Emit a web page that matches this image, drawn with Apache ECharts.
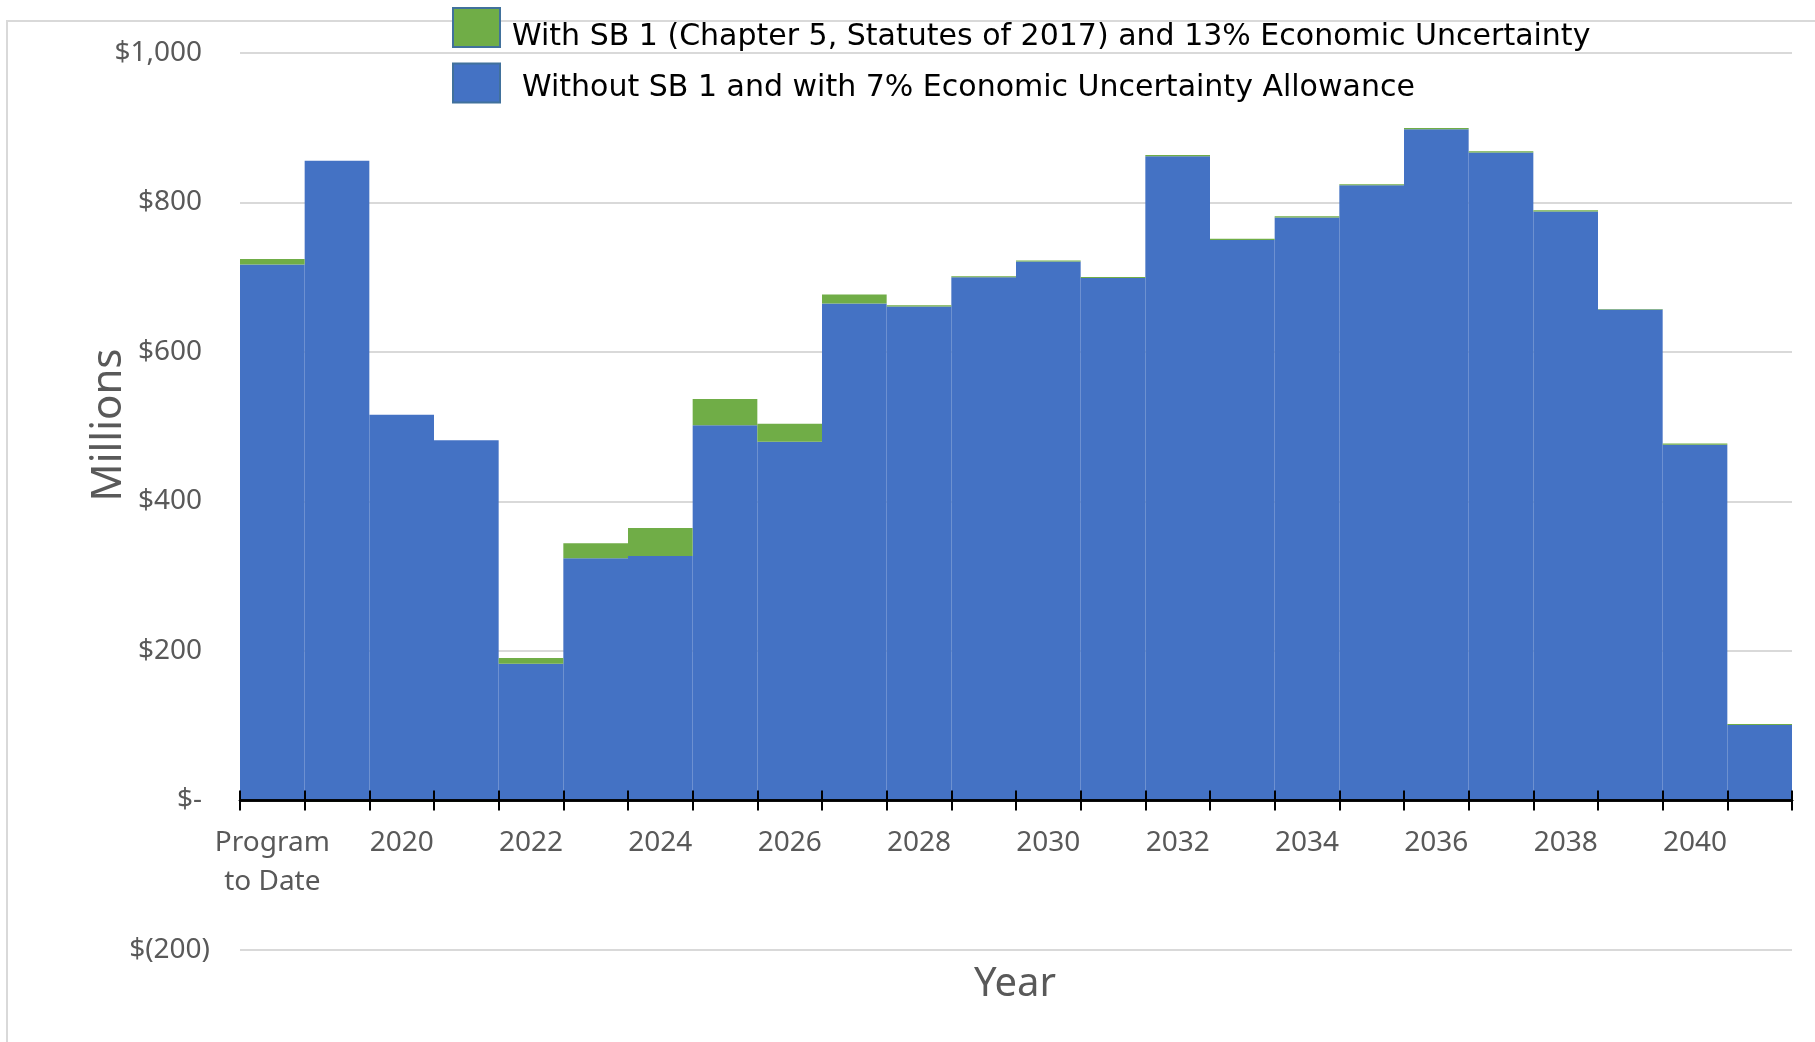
<!DOCTYPE html>
<html>
<head>
<meta charset="utf-8">
<script src="https://cdn.jsdelivr.net/npm/echarts@6/dist/echarts.min.js"></script>
<style>
html,body{margin:0;padding:0;background:#fff;}
#chart{width:1815px;height:1042px;}
</style>
</head>
<body>
<div id="chart"></div>
<script>
const categories = ['Program to Date','2019','2020','2021','2022','2023','2024','2025','2026','2027','2028','2029','2030','2031','2032','2033','2034','2035','2036','2037','2038','2039','2040','2041'];
const withoutSB1 = [717, 856, 516, 482, 183, 324, 327, 502, 480, 665, 661, 700, 721, 699, 862, 750, 780, 823, 898, 867, 788, 657, 476, 101];
const withSB1Extra = [7.5, -2, -2, -2, 7.5, 20, 37.5, 35, 24, 12, 1.5, 1.5, 1.5, 1.5, 1.5, 1.5, 1.5, 1.5, 1.5, 1.5, 1.5, 0.5, 1.5, 1.5];
const yTicks = {'1000':'$1,000','800':'$800','600':'$600','400':'$400','200':'$200','0':'$-','-200':'$(200)'};
const nameWith = 'With SB 1 (Chapter 5, Statutes of 2017) and 13% Economic Uncertainty';
const nameWithout = 'Without SB 1 and with 7% Economic Uncertainty Allowance';
const xTitle = 'Year';
const yTitle = 'Millions';

const chart = echarts.init(document.getElementById('chart'));
const FONT = 'Noto Sans';
const gridBox = {left: 240, right: 23, top: 53, bottom: 92, outerBoundsMode: 'none', containLabel: false};
const labelGrid = {left: 240, right: 23, top: 53, bottom: 242, outerBoundsMode: 'none', containLabel: false};
chart.setOption({
  animation: false,
  backgroundColor: '#fff',
  graphic: [{
    type: 'rect', z: -10, silent: true,
    shape: {x: 7, y: 21, width: 1840, height: 1060},
    style: {fill: 'none', stroke: '#D9D9D9', lineWidth: 2}
  }, {
    type: 'text', silent: true,
    x: 109, y: 425, rotation: Math.PI / 2,
    style: {text: yTitle, fontFamily: FONT, fontSize: 42, fill: '#595959', align: 'center', verticalAlign: 'middle'}
  }, {
    type: 'text', silent: true,
    x: 1015, y: 985,
    style: {text: xTitle, fontFamily: FONT, fontSize: 40, fill: '#595959', align: 'center', verticalAlign: 'middle'}
  }],
  legend: {
    orient: 'vertical',
    left: 452, top: 7, padding: 0,
    itemWidth: 47, itemHeight: 39, itemGap: 10,
    icon: 'rect',
    itemStyle: {borderColor: '#41719C', borderWidth: 2},
    formatter: name => name === nameWith ? '{a|' + name + '}' : '{b|' + name + '}',
    textStyle: {
      fontFamily: 'DejaVu Sans', fontSize: 30, color: '#000',
      rich: {
        a: {fontFamily: 'DejaVu Sans', fontSize: 30, color: '#000', padding: [20, 0, 0, 7]},
        b: {fontFamily: 'DejaVu Sans', fontSize: 30, color: '#000', padding: [10, 0, 0, 17]}
      }
    },
    data: [nameWith, nameWithout]
  },
  grid: [Object.assign({}, gridBox), Object.assign({}, gridBox), labelGrid],
  xAxis: [{
    type: 'category',
    gridIndex: 0,
    data: categories,
    z: 10,
    boundaryGap: true,
    axisLine: {onZero: true, lineStyle: {color: '#000', width: 2.5}},
    axisTick: {show: true, interval: 0, length: 10, lineStyle: {color: '#000', width: 2}},
    axisLabel: {show: false},
    splitLine: {show: false}
  }, {
    type: 'category',
    gridIndex: 1,
    data: categories,
    z: 11,
    boundaryGap: true,
    axisLine: {onZero: true, lineStyle: {color: '#000', width: 2.5}},
    axisTick: {show: true, inside: true, interval: 0, length: 10, lineStyle: {color: '#000', width: 2}},
    axisLabel: {show: false},
    splitLine: {show: false}
  }, {
    type: 'category',
    gridIndex: 2,
    data: categories,
    boundaryGap: true,
    axisLine: {show: false, onZero: false},
    axisTick: {show: false},
    axisLabel: {interval: 1, margin: 24, fontFamily: FONT, fontSize: 28, color: '#595959', lineHeight: 39,
      formatter: v => v === 'Program to Date' ? 'Program\nto Date' : v},
    splitLine: {show: false}
  }],
  yAxis: [{
    type: 'value',
    gridIndex: 0,
    min: -200, max: 1000, interval: 200,
    axisLine: {show: false},
    axisTick: {show: false},
    axisLabel: {
      margin: 30,
      fontFamily: FONT, fontSize: 28, color: '#595959',
      formatter: v => v < 0 ? '{n|' + yTicks[String(v)] + '}' : '{p|' + yTicks[String(v)] + '}',
      rich: {
        p: {fontFamily: FONT, fontSize: 28, color: '#595959', padding: [0, 8, 0, 0]},
        n: {fontFamily: FONT, fontSize: 28, color: '#595959'}
      }
    },
    splitLine: {lineStyle: {color: '#D9D9D9', width: 2}}
  }, {
    type: 'value',
    gridIndex: 1,
    min: -200, max: 1000, interval: 200,
    show: false
  }, {
    type: 'value',
    gridIndex: 2,
    min: 0, max: 1000,
    show: false
  }],
  series: [{
    name: nameWithout,
    type: 'bar',
    stack: 'total',
    xAxisIndex: 0, yAxisIndex: 0,
    barCategoryGap: '0%',
    itemStyle: {color: '#4472C4'},
    data: withoutSB1
  }, {
    name: nameWith,
    type: 'bar',
    stack: 'total',
    xAxisIndex: 0, yAxisIndex: 0,
    barCategoryGap: '0%',
    itemStyle: {color: '#70AD47'},
    data: withSB1Extra
  }]
});
</script>
</body>
</html>
